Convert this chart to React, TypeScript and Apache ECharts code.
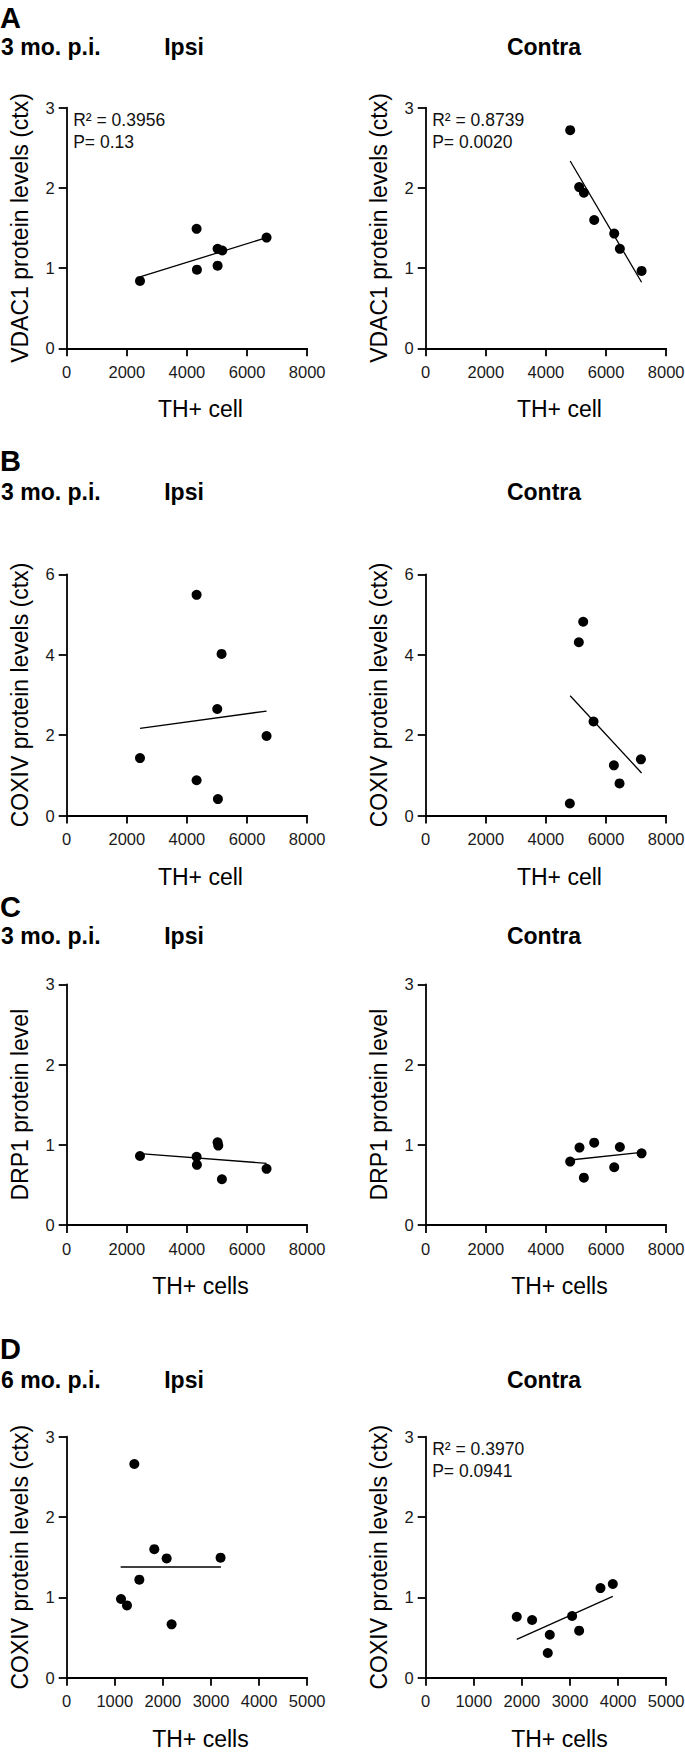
import React, { useEffect, useRef } from "react";
import * as echarts from "echarts";

// ---------- text ----------
const panelLetters = ["A", "B", "C", "D"];
const timeLabels = ["3 mo. p.i.", "3 mo. p.i.", "3 mo. p.i.", "6 mo. p.i."];
const sideLabels = ["Ipsi", "Contra"];
const yTitles = [
  "VDAC1 protein levels (ctx)",
  "COXIV protein levels (ctx)",
  "DRP1 protein level",
  "COXIV protein levels (ctx)",
];
const xTitles = ["TH+ cell", "TH+ cell", "TH+ cells", "TH+ cells"];

// ---------- axes ----------
const yMaxes = [3, 6, 3, 3];
const yIntervals = [1, 2, 1, 1];
const xMaxes = [8000, 8000, 8000, 5000];
const xIntervals = [2000, 2000, 2000, 1000];

// ---------- data ----------
const aIpsiX = [2438, 4321, 4332, 5019, 5019, 5175, 6648];
const aIpsiY = [0.84, 1.49, 0.98, 1.03, 1.24, 1.22, 1.38];
const aIpsiFitX = [2438, 6648];
const aIpsiFitY = [0.89, 1.38];

const aContraX = [4806, 5105, 5261, 5605, 6271, 6459, 7181];
const aContraY = [2.72, 2.01, 1.94, 1.6, 1.43, 1.24, 0.965];
const aContraFitX = [4806, 7181];
const aContraFitY = [2.335, 0.824];

const bIpsiX = [4321, 5152, 5008, 6648, 2438, 4321, 5030];
const bIpsiY = [5.49, 4.02, 2.65, 1.98, 1.43, 0.88, 0.41];
const bIpsiFitX = [2438, 6648];
const bIpsiFitY = [2.17, 2.6];

const bContraX = [5239, 5094, 5583, 7159, 6260, 6448, 4795];
const bContraY = [4.82, 4.31, 2.34, 1.4, 1.25, 0.8, 0.3];
const bContraFitX = [4806, 7181];
const bContraFitY = [2.98, 1.06];

const cIpsiX = [2438, 4321, 4332, 5019, 5042, 5163, 6648];
const cIpsiY = [0.86, 0.85, 0.75, 1.03, 0.99, 0.57, 0.7];
const cIpsiFitX = [2438, 6648];
const cIpsiFitY = [0.889, 0.769];

const cContraX = [4806, 5116, 5261, 5605, 6271, 6459, 7181];
const cContraY = [0.79, 0.965, 0.59, 1.026, 0.72, 0.972, 0.893];
const cContraFitX = [4806, 7181];
const cContraFitY = [0.81, 0.906];

const dIpsiX = [1406, 1821, 2078, 3199, 1510, 1129, 1253, 2181];
const dIpsiY = [2.66, 1.6, 1.485, 1.494, 1.22, 0.98, 0.9, 0.664];
const dIpsiFitX = [1122, 3206];
const dIpsiFitY = [1.378, 1.378];

const dContraX = [1893, 2212, 2580, 2538, 3044, 3190, 3634, 3890];
const dContraY = [0.759, 0.718, 0.535, 0.307, 0.768, 0.585, 1.116, 1.166];
const dContraFitX = [1893, 3890];
const dContraFitY = [0.477, 1.012];

const statsAIpsi = ["R\u00B2 = 0.3956", "P= 0.13"];
const statsAContra = ["R\u00B2 = 0.8739", "P= 0.0020"];
const statsDContra = ["R\u00B2 = 0.3970", "P= 0.0941"];

// panels in row-major order
const panels = [
  { row: 0, col: 0, x: aIpsiX, y: aIpsiY, fx: aIpsiFitX, fy: aIpsiFitY, stats: statsAIpsi },
  { row: 0, col: 1, x: aContraX, y: aContraY, fx: aContraFitX, fy: aContraFitY, stats: statsAContra },
  { row: 1, col: 0, x: bIpsiX, y: bIpsiY, fx: bIpsiFitX, fy: bIpsiFitY, stats: null },
  { row: 1, col: 1, x: bContraX, y: bContraY, fx: bContraFitX, fy: bContraFitY, stats: null },
  { row: 2, col: 0, x: cIpsiX, y: cIpsiY, fx: cIpsiFitX, fy: cIpsiFitY, stats: null },
  { row: 2, col: 1, x: cContraX, y: cContraY, fx: cContraFitX, fy: cContraFitY, stats: null },
  { row: 3, col: 0, x: dIpsiX, y: dIpsiY, fx: dIpsiFitX, fy: dIpsiFitY, stats: null },
  { row: 3, col: 1, x: dContraX, y: dContraY, fx: dContraFitX, fy: dContraFitY, stats: statsDContra },
];

// ---------- layout ----------
const W = 685;
const H = 1756;
const rowTops = [107.7, 574.3, 984.3, 1436.7];
const rowHeights = [240.6, 241.3, 240.7, 241];
const colLefts = [66.7, 425.7];
const plotW = 240.5;
const letterY = [17.8, 461, 907, 1349];
const headerY = [47.3, 492, 936, 1380];
const sideX = [184, 544];

const FONT = "'Liberation Sans', Arial, Helvetica, sans-serif";

export default function App() {
  const ref = useRef<HTMLDivElement>(null);

  useEffect(() => {
    if (!ref.current) return;
    const chart = echarts.init(ref.current, null, { renderer: "svg", width: W, height: H });

    const grids: any[] = [];
    const xAxes: any[] = [];
    const yAxes: any[] = [];
    const series: any[] = [];
    const graphics: any[] = [];

    const axisLine = { show: true, lineStyle: { color: "#000", width: 1.8 } };
    const axisTick = { show: true, length: 8, lineStyle: { color: "#000", width: 1.8 } };
    const labelStyle = {
      color: "#1a1a1a",
      fontSize: 16.5,
      fontFamily: FONT,
      formatter: (v: number) => String(v),
    };

    panels.forEach((p, i) => {
      const left = colLefts[p.col];
      const top = rowTops[p.row];
      const h = rowHeights[p.row];
      grids.push({
        left,
        top,
        width: plotW,
        height: h,
        containLabel: false,
        outerBoundsMode: "none",
      });
      xAxes.push({
        type: "value",
        gridIndex: i,
        min: 0,
        max: xMaxes[p.row],
        interval: xIntervals[p.row],
        axisLine: { ...axisLine, onZero: false },
        axisTick,
        axisLabel: { ...labelStyle, margin: 15 },
        splitLine: { show: false },
      });
      yAxes.push({
        type: "value",
        gridIndex: i,
        min: 0,
        max: yMaxes[p.row],
        interval: yIntervals[p.row],
        axisLine: { ...axisLine, onZero: false },
        axisTick,
        axisLabel: { ...labelStyle, margin: 12 },
        splitLine: { show: false },
      });
      series.push({
        type: "scatter",
        xAxisIndex: i,
        yAxisIndex: i,
        symbol: "circle",
        symbolSize: 10,
        itemStyle: { color: "#000", opacity: 1 },
        data: p.x.map((v, k) => [v, p.y[k]]),
        z: 3,
      });
      series.push({
        type: "line",
        xAxisIndex: i,
        yAxisIndex: i,
        symbol: "none",
        lineStyle: { color: "#000", width: 1.3 },
        data: p.fx.map((v, k) => [v, p.fy[k]]),
        z: 2,
      });

      graphics.push({
        type: "text",
        x: left - 46.5,
        y: top + h / 2,
        rotation: Math.PI / 2,
        style: {
          text: yTitles[p.row],
          fontSize: 23,
          fontFamily: FONT,
          fill: "#000",
          align: "center",
          verticalAlign: "middle",
        },
      });
      graphics.push({
        type: "text",
        x: left + plotW / 2 + 13.5,
        y: top + h + 61,
        style: {
          text: xTitles[p.row],
          fontSize: 23,
          fontFamily: FONT,
          fill: "#000",
          align: "center",
          verticalAlign: "middle",
        },
      });
      if (p.stats) {
        p.stats.forEach((s, k) => {
          graphics.push({
            type: "text",
            x: left + 6.5,
            y: top + 12.5 + k * 22,
            style: {
              text: s,
              fontSize: 17.5,
              fontFamily: FONT,
              fill: "#111",
              align: "left",
              verticalAlign: "middle",
            },
          });
        });
      }
    });

    for (let r = 0; r < 4; r++) {
      graphics.push({
        type: "text",
        x: 0,
        y: letterY[r],
        style: {
          text: panelLetters[r],
          fontSize: 29,
          fontWeight: "bold",
          fontFamily: FONT,
          fill: "#000",
          align: "left",
          verticalAlign: "middle",
        },
      });
      graphics.push({
        type: "text",
        x: 1,
        y: headerY[r],
        style: {
          text: timeLabels[r],
          fontSize: 23,
          fontWeight: "bold",
          fontFamily: FONT,
          fill: "#000",
          align: "left",
          verticalAlign: "middle",
        },
      });
      sideLabels.forEach((s, c) => {
        graphics.push({
          type: "text",
          x: sideX[c],
          y: headerY[r],
          style: {
            text: s,
            fontSize: 23,
            fontWeight: "bold",
            fontFamily: FONT,
            fill: "#000",
            align: "center",
            verticalAlign: "middle",
          },
        });
      });
    }

    chart.setOption({
      animation: false,
      backgroundColor: "#fff",
      grid: grids,
      xAxis: xAxes,
      yAxis: yAxes,
      series,
      graphic: graphics,
    });

    return () => chart.dispose();
  }, []);

  return (
    <div
      ref={ref}
      style={{ position: "absolute", left: 0, top: 0, width: W, height: H, background: "#fff" }}
    />
  );
}
